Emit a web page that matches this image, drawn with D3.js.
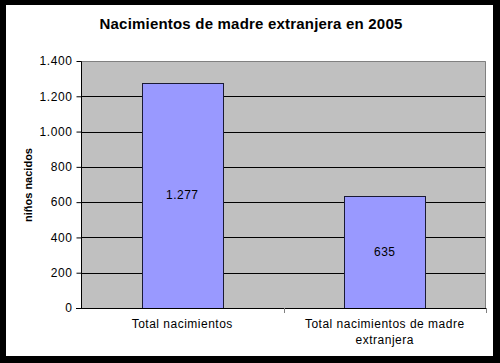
<!DOCTYPE html>
<html>
<head>
<meta charset="utf-8">
<script src="https://cdn.jsdelivr.net/npm/d3@7"></script>
<style>
  body { margin: 0; background: #fff; }
  text { font-family: Arial, "Liberation Sans", sans-serif; }
</style>
</head>
<body>
<div id="chart"></div>
<script>
// data
var categories = ["Total nacimientos", "Total nacimientos de madre extranjera"];
var catLines = [["Total nacimientos"], ["Total nacimientos de madre", "extranjera"]];
var values = [1277, 635];
var yTicks = [0, 200, 400, 600, 800, 1000, 1200, 1400];

var width = 500, height = 363;
var pLeft = 81, pRight = 486, pTop = 61, pBottom = 308;

var svg = d3.select('#chart').append('svg')
    .attr('width', width)
    .attr('height', height);

// frame
svg.append("rect").attr("x", 0).attr("y", 0).attr("width", width).attr("height", height).attr("fill", "#000");
svg.append("rect").attr("x", 6).attr("y", 5).attr("width", 487).attr("height", 351).attr("fill", "#fff");

var fmt = function(v) { return d3.format(",")(v).replace(/,/g, "."); };

var x = d3.scaleBand().domain(categories).range([pLeft, pRight]).paddingInner(0).paddingOuter(0);
var y = d3.scaleLinear().domain([0, 1400]).range([pBottom, pTop]);

// plot area
svg.append("rect")
    .attr("x", pLeft).attr("y", pTop)
    .attr("width", pRight - pLeft).attr("height", pBottom - pTop)
    .attr("fill", "#c0c0c0");

// gridlines
svg.append("g").selectAll("line").data(yTicks.filter(d => d > 0 && d < 1400)).enter()
    .append("line")
    .attr("x1", pLeft).attr("x2", pRight)
    .attr("y1", d => Math.round(y(d)) + 0.5).attr("y2", d => Math.round(y(d)) + 0.5)
    .attr("stroke", "#000").attr("stroke-width", 1);

// plot border (top & right)
svg.append("path")
    .attr("d", "M" + pLeft + "," + (pTop + 0.5) + "H" + (pRight - 0.5) + "V" + pBottom)
    .attr("fill", "none").attr("stroke", "#808080");

// bars
var bw = x.bandwidth() * 0.4;
svg.append("g").selectAll("rect").data(values).enter()
    .append("rect")
    .attr("x", (d, i) => Math.round(x(categories[i]) + (x.bandwidth() - bw) / 2) + 0.5)
    .attr("y", d => Math.round(y(d)) + 0.5)
    .attr("width", Math.round(bw))
    .attr("height", d => pBottom - Math.round(y(d)))
    .attr("fill", "#9999ff")
    .attr("stroke", "#1a1a33").attr("stroke-width", 1);

// bar value labels
svg.append("g").selectAll("text").data(values).enter()
    .append("text")
    .attr("x", (d, i) => x(categories[i]) + x.bandwidth() / 2)
    .attr("y", d => (y(d) + pBottom) / 2 + 4)
    .attr("text-anchor", "middle")
    .attr("font-size", "12px")
    .attr("letter-spacing", "0.5px")
    .attr("fill", "#000")
    .text(d => fmt(d));

// y axis
var yAxis = d3.axisLeft(y).tickValues(yTicks).tickSize(5).tickFormat(fmt);
var ya = svg.append("g").attr("transform", "translate(" + (pLeft + 0.5) + ",0)").call(yAxis);
ya.select(".domain").attr("stroke", "#000").attr("d", "M0," + (pTop + 0.5) + "V" + (pBottom + 0.5));
ya.selectAll(".tick line").attr("stroke", "#000");
ya.selectAll(".tick text")
    .attr("font-size", "12px")
    .attr("letter-spacing", "0.6px")
    .attr("font-family", "Arial, 'Liberation Sans', sans-serif")
    .attr("fill", "#000").attr("x", -9);

// x axis
svg.append("line").attr("x1", pLeft - 5).attr("x2", pRight).attr("y1", pBottom + 0.5).attr("y2", pBottom + 0.5).attr("stroke", "#000");
svg.append("g").selectAll("line").data(categories).enter()
    .append("line")
    .attr("x1", d => Math.round(x(d) + x.bandwidth()) + 0.5)
    .attr("x2", d => Math.round(x(d) + x.bandwidth()) + 0.5)
    .attr("y1", pBottom).attr("y2", pBottom + 5)
    .attr("stroke", "#808080");

// category labels
var cl = svg.append("g").selectAll("text").data(categories).enter()
    .append("text")
    .attr("text-anchor", "middle")
    .attr("font-size", "12px")
    .attr("letter-spacing", "0.5px")
    .attr("fill", "#000");
cl.each(function(d, i) {
    var t = d3.select(this);
    catLines[i].forEach(function(line, j) {
        t.append("tspan")
            .attr("x", x(d) + x.bandwidth() / 2)
            .attr("y", 328 + j * 16)
            .text(line);
    });
});

// title
svg.append("text")
    .attr("x", 251).attr("y", 29)
    .attr("text-anchor", "middle")
    .attr("font-size", "15px")
    .attr("font-weight", "bold")
    .attr("letter-spacing", "0.2px")
    .attr("fill", "#000")
    .text("Nacimientos de madre extranjera en 2005");

// y label
svg.append("text")
    .attr("transform", "translate(32,185) rotate(-90)")
    .attr("text-anchor", "middle")
    .attr("font-size", "11px")
    .attr("font-weight", "bold")
    .attr("fill", "#000")
    .text("niños nacidos");
</script>
</body>
</html>
